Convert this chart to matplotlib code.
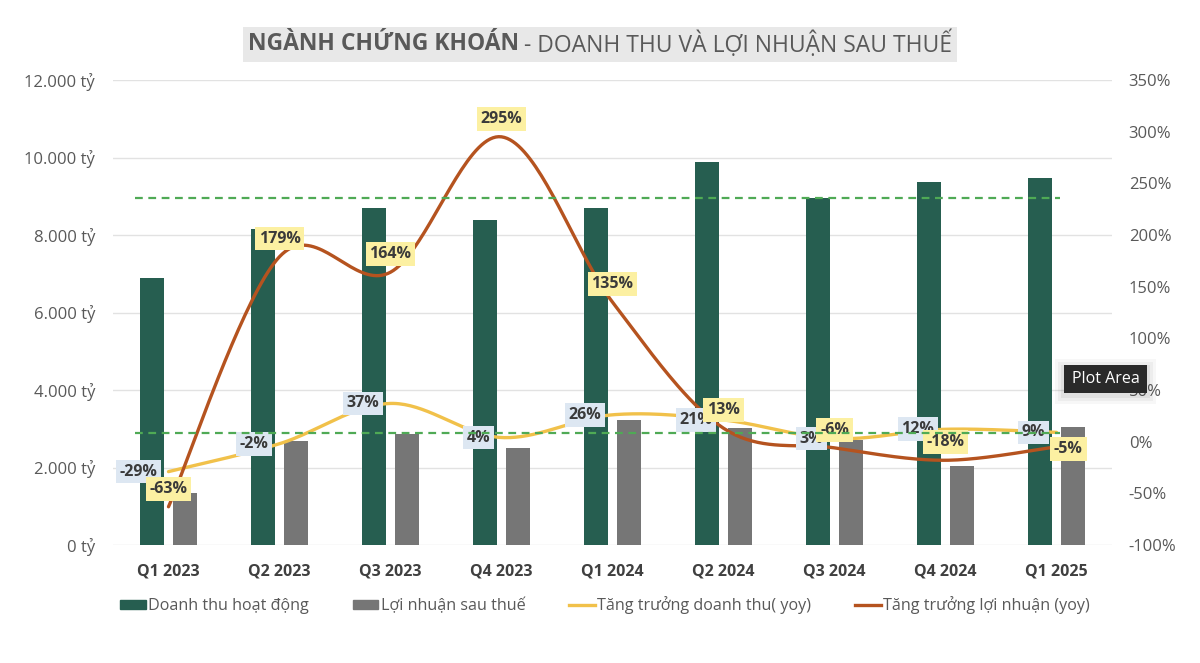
import matplotlib
matplotlib.use("Agg")
import matplotlib.pyplot as plt
import numpy as np
from matplotlib.patches import Patch, Rectangle
from matplotlib.lines import Line2D
from matplotlib import font_manager as fm

# ---------------- data ----------------
categories = ["Q1 2023", "Q2 2023", "Q3 2023", "Q4 2023", "Q1 2024",
              "Q2 2024", "Q3 2024", "Q4 2024", "Q1 2025"]
revenue = [6900, 8150, 8690, 8390, 8690, 9890, 8950, 9380, 9480]          # tỷ
profit = [1330, 2680, 2870, 2500, 3230, 3030, 2710, 2040, 3050]           # tỷ
rev_growth = [-29, -2, 37, 4, 26, 21, 3, 12, 9]                            # %
prof_growth = [-63, 179, 164, 295, 135, 13, -6, -18, -5]                   # %
ref_lines = [8950, 2880]                                                   # tỷ
left_ticks = [0, 2000, 4000, 6000, 8000, 10000, 12000]
right_ticks = [-100, -50, 0, 50, 100, 150, 200, 250, 300, 350]
legend_labels = ["Doanh thu hoạt động", "Lợi nhuận sau thuế",
                 "Tăng trưởng doanh thu( yoy)", "Tăng trưởng lợi nhuận (yoy)"]
title_bold = "NGÀNH CHỨNG KHOÁN"
title_rest = " - DOANH THU VÀ LỢI NHUẬN SAU THUẾ"

# ---------------- style ----------------
avail = {f.name for f in fm.fontManager.ttflist}
base = "Open Sans" if "Open Sans" in avail else "DejaVu Sans"
plt.rcParams["font.family"] = [base, "DejaVu Sans"]

C_REV = "#265e50"
C_PROF = "#767676"
C_RG = "#f1c14a"
C_PG = "#b5531f"
C_DASH = "#4faa55"
C_TXT = "#595959"
C_LBL = "#3a3a3a"
C_BLUE = "#dde7f2"
C_YEL = "#fcf0a2"

fig = plt.figure(figsize=(12, 6.63), dpi=100)
ax = fig.add_axes([113 / 1200, 1 - 545 / 663, 999 / 1200, 465 / 663])
ax2 = ax.twinx()

x = np.arange(len(categories))
bw = 0.215
off = 0.145
ax.bar(x - off, revenue, bw, color=C_REV, zorder=2)
ax.bar(x + off, profit, bw, color=C_PROF, zorder=2)

ax.set_xlim(-0.5, len(categories) - 0.5)
ax.set_ylim(0, 12000)
ax.set_yticks(left_ticks)
ax.set_yticklabels([f"{v:,}".replace(",", ".") + " tỷ" for v in left_ticks])
ax.grid(axis="y", color="#e2e2e2", lw=1)
ax.set_axisbelow(True)
ax.set_xticks(x)
ax.set_xticklabels(categories, fontweight="bold", color="#404040", fontsize=11.5)

for a in (ax, ax2):
    for s in a.spines.values():
        s.set_visible(False)
    a.tick_params(length=0)
ax.tick_params(axis="y", labelcolor=C_TXT, labelsize=12, pad=13)
ax.tick_params(axis="x", pad=13)

ax2.set_ylim(-100, 350)
ax2.set_yticks(right_ticks)
ax2.set_yticklabels([f"{v}%" for v in right_ticks])
ax2.tick_params(axis="y", labelcolor=C_TXT, labelsize=12, pad=12)


def smooth(xs, ys, n=40):
    P = np.column_stack([xs, ys]).astype(float)
    out = []
    m = len(P)
    for i in range(m - 1):
        p0 = P[i - 1] if i > 0 else P[i]
        p1, p2 = P[i], P[i + 1]
        p3 = P[i + 2] if i + 2 < m else P[i + 1]
        c1 = p1 + (p2 - p0) / 6
        c2 = p2 - (p3 - p1) / 6
        t = np.linspace(0, 1, n)[:, None]
        seg = ((1 - t) ** 3) * p1 + 3 * ((1 - t) ** 2) * t * c1 + 3 * (1 - t) * t ** 2 * c2 + t ** 3 * p2
        out.append(seg if i == 0 else seg[1:])
    out = np.vstack(out)
    return out[:, 0], out[:, 1]


sx, sy = smooth(x, rev_growth)
ax2.plot(sx, sy, color=C_RG, lw=2.4, zorder=3, solid_capstyle="round")
sx, sy = smooth(x, prof_growth)
ax2.plot(sx, sy, color=C_PG, lw=2.4, zorder=3, solid_capstyle="round")

# reference dashed lines (drawn on top)
for v in ref_lines:
    ax2.plot([-0.3, 8.03], [v, v], transform=ax.transData, color=C_DASH,
             lw=1.6, ls=(0, (3.5, 2.5)), zorder=10)

lbl_kw = dict(textcoords="offset points", fontsize=11.5, fontweight="bold",
              color=C_LBL, zorder=6, va="center")
for i, v in enumerate(rev_growth):
    ax2.annotate(f"{v}%", xy=(i, v), xytext=(-8, 0), ha="right",
                 bbox=dict(boxstyle="square,pad=0.24", fc=C_BLUE, ec="none"),
                 **lbl_kw)
for i, v in enumerate(prof_growth):
    if i == len(prof_growth) - 1:
        dx, dy = 8.5, -1.5
    else:
        dx, dy = 0, 13
    ax2.annotate(f"{v}%", xy=(i, v), xytext=(dx, dy), ha="center",
                 bbox=dict(boxstyle="square,pad=0.24", fc=C_YEL, ec="none"),
                 **lbl_kw)

# legend
handles = [Patch(color=C_REV), Patch(color=C_PROF),
           Line2D([], [], color=C_RG, lw=2.4), Line2D([], [], color=C_PG, lw=2.4)]
fig.legend(handles, legend_labels, loc="center", bbox_to_anchor=(605 / 1200, 1 - 605 / 663),
           ncol=4, frameon=False, fontsize=11.6, labelcolor=C_TXT,
           handlelength=1.6, handleheight=0.5, handletextpad=0.15, columnspacing=2.7)

# title
ty = 1 - 44.5 / 663
t1 = fig.text(0.3, ty, title_bold, fontsize=16.5, fontweight="bold", color=C_TXT,
              va="center", ha="left", zorder=5)
t2 = fig.text(0.5, ty, title_rest, fontsize=16.5, color=C_TXT, va="center", ha="left", zorder=5)
fig.canvas.draw()
r = fig.canvas.get_renderer()
w1 = t1.get_window_extent(r).width
w2 = t2.get_window_extent(r).width
W = fig.bbox.width
x0 = (W - (w1 + w2)) / 2
t1.set_x(x0 / W)
t2.set_x((x0 + w1) / W)
pad = 5
fig.patches.append(Rectangle(((x0 - pad) / W, 1 - 62 / 663), (w1 + w2 + 2 * pad) / W, 35 / 663,
                             transform=fig.transFigure, facecolor="#e8e8e8",
                             edgecolor="none", zorder=1))

# tooltip overlay seen in the reference
for k, a in enumerate([0.05, 0.04, 0.03]):
    g = 3 + 3 * k
    fig.patches.append(Rectangle(((1064 - g) / W, 1 - (393 + g + 2) / 663), (83 + 2 * g) / W,
                                 (27 + 2 * g) / 663, transform=fig.transFigure,
                                 facecolor="black", alpha=a, edgecolor="none", zorder=20))
fig.patches.append(Rectangle((1064 / W, 1 - 393 / 663), 83 / W, 28 / 663,
                             transform=fig.transFigure, facecolor="#2a2a2a",
                             edgecolor="none", zorder=21))
fig.text(1105.5 / W, 1 - 379 / 663, "Plot Area", color="white", fontsize=11.5,
         ha="center", va="center", zorder=22)

fig.savefig("out.png", dpi=100)
